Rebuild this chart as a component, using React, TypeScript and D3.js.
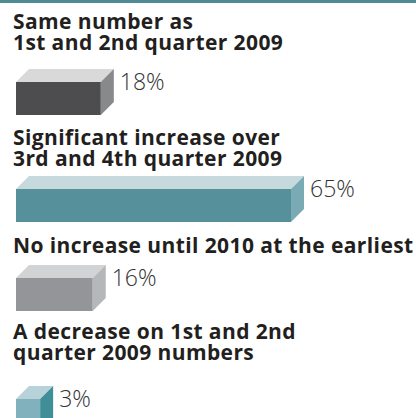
import React from "react";
import * as d3 from "d3";

const categories: string[][] = [
  ["Same number as", "1st and 2nd quarter 2009"],
  ["Significant increase over", "3rd and 4th quarter 2009"],
  ["No increase until 2010 at the earliest"],
  ["A decrease on 1st and 2nd", "quarter 2009 numbers"],
];
const values: number[] = [18, 65, 16, 3];
const frontColors = ["#4d4d4f", "#56909a", "#939598", "#80b1bd"];
const topColors = ["#d9d9da", "#c6dadd", "#d2d3d4", "#b7d3d9"];
const sideColors = ["#88898b", "#7aabb4", "#b6b7b9", "#3f8e98"];

const W = 416;
const H = 418;
const X0 = 16;
const DEPTH = 13;
const BAR_H = 33;
const LINE_H = 21;
const titleBaselines = [29, 145, 253, 339];
const barTops = [69, 176, 265, 386];

export default function App() {
  const x = d3.scaleLinear().domain([0, 65]).range([12, 275]);
  const line = d3.line();
  return (
    <div style={{ position: "fixed", left: 0, top: 0 }}>
      <svg width={W} height={H} style={{ display: "block" }}>
        <rect x={0} y={0} width={W} height={H} fill="#ffffff" />
        <rect x={0} y={0} width={W} height={3} fill="#4f8b93" />
        {categories.map((lines, i) => {
          const w = x(values[i]);
          const t = barTops[i];
          const fy = t + DEPTH;
          const x1 = X0 + w;
          const topPts: [number, number][] = [
            [X0, fy],
            [X0 + DEPTH, t],
            [x1 + DEPTH, t],
            [x1, fy],
          ];
          const sidePts: [number, number][] = [
            [x1, fy],
            [x1 + DEPTH, t],
            [x1 + DEPTH, t + BAR_H],
            [x1, fy + BAR_H],
          ];
          return (
            <g key={i}>
              {lines.map((l, j) => (
                <text
                  key={j}
                  x={13}
                  y={titleBaselines[i] + j * LINE_H}
                  fontFamily="'Open Sans', sans-serif"
                  fontWeight={700}
                  fontSize={21}
                  letterSpacing={0.4}
                  fill="#231f20"
                >
                  {l}
                </text>
              ))}
              <rect x={X0} y={fy} width={w} height={BAR_H} fill={frontColors[i]} />
              <path d={line(topPts) + "Z"} fill={topColors[i]} />
              <path d={line(sidePts) + "Z"} fill={sideColors[i]} />
              <text
                x={x1 + DEPTH + 6}
                y={t + 21}
                fontFamily="'Open Sans', sans-serif"
                fontWeight={300}
                fontSize={23}
                fill="#333333"
              >
                {values[i]}%
              </text>
            </g>
          );
        })}
      </svg>
    </div>
  );
}
